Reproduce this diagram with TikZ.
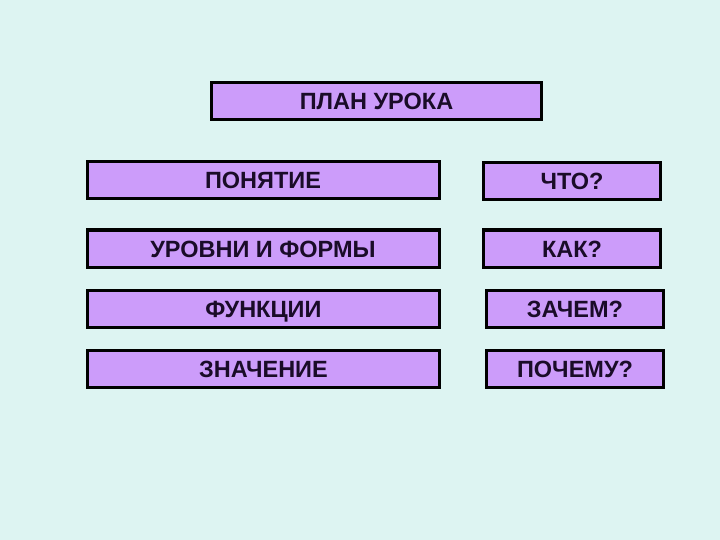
\documentclass[tikz,border=0pt]{standalone}
\usepackage{fontspec}
\setmainfont{Liberation Sans}
\definecolor{bgcyan}{HTML}{DDF4F2}
\definecolor{boxviolet}{HTML}{CC9CFA}
\definecolor{textdark}{HTML}{1A0C28}
\begin{document}
\begin{tikzpicture}[
        x=1pt, y=-1pt,
        box/.style={draw=black, line width=3pt, fill=boxviolet, text=textdark,
            font=\bfseries\fontsize{23.5}{26}\selectfont, inner sep=0pt,
            text height=17pt, text depth=0pt, minimum height=37pt},
        wide/.style={box, minimum width=352pt},
        narrow/.style={box, minimum width=177pt}
    ]
        \fill[bgcyan] (0, 0) rectangle (720, 540);
        \node[box, minimum width=330pt] (plan) at (376.5, 101) {ПЛАН УРОКА};
        \node[wide] (concept) at (263, 180.5) {ПОНЯТИЕ};
        \node[wide] (levels) at (263, 248.5) {УРОВНИ И ФОРМЫ};
        \node[wide] (functions) at (263.5, 309) {ФУНКЦИИ};
        \node[wide] (meaning) at (263.5, 369) {ЗНАЧЕНИЕ};
        \node[narrow] (what) at (572, 181) {ЧТО?};
        \node[narrow] (how) at (572, 248.5) {КАК?};
        \node[narrow] (whatfor) at (575, 309) {ЗАЧЕМ?};
        \node[narrow] (why) at (575, 369) {ПОЧЕМУ?};
    \end{tikzpicture}
\end{document}
